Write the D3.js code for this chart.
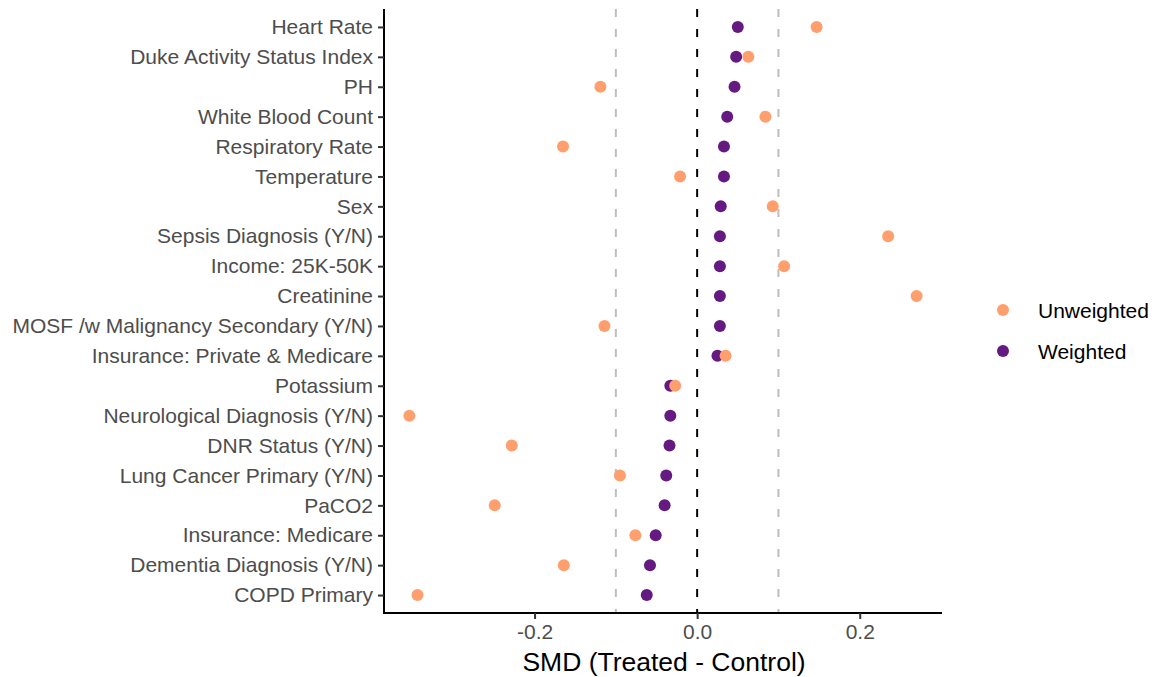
<!DOCTYPE html>
<html>
<head>
<meta charset="utf-8">
<script src="https://cdn.jsdelivr.net/npm/d3@7"></script>
<style>
  body { margin: 0; background: #fff; }
  svg { font-family: "Liberation Sans", Arial, Helvetica, sans-serif; }
</style>
</head>
<body>
<div id="chart"></div>
<script>
// covariates, top to bottom
var covariates = [
  "Heart Rate", "Duke Activity Status Index", "PH", "White Blood Count",
  "Respiratory Rate", "Temperature", "Sex", "Sepsis Diagnosis (Y/N)",
  "Income: 25K-50K", "Creatinine", "MOSF /w Malignancy Secondary (Y/N)",
  "Insurance: Private & Medicare", "Potassium", "Neurological Diagnosis (Y/N)",
  "DNR Status (Y/N)", "Lung Cancer Primary (Y/N)", "PaCO2",
  "Insurance: Medicare", "Dementia Diagnosis (Y/N)", "COPD Primary"
];
var unweighted = [0.147, 0.063, -0.119, 0.084, -0.165, -0.021, 0.093, 0.235,
  0.107, 0.270, -0.114, 0.035, -0.027, -0.354, -0.228, -0.095, -0.249,
  -0.076, -0.164, -0.344];
var weighted = [0.050, 0.048, 0.046, 0.037, 0.033, 0.033, 0.029, 0.028,
  0.028, 0.028, 0.028, 0.025, -0.033, -0.033, -0.034, -0.038, -0.040,
  -0.051, -0.058, -0.062];
var xTicks = [-0.2, 0.0, 0.2];
var refLines = [-0.1, 0.1];
var seriesNames = ["Unweighted", "Weighted"];
var seriesColors = ["#FE9F6D", "#641A80"];

var W = 1156, H = 677;
var pLeft = 384, pRight = 942, pTop = 9, pBottom = 613;

var svg = d3.select("#chart").append("svg").attr("width", W).attr("height", H);

// ggplot-like 5% expansion
var all = unweighted.concat(weighted);
var lo = d3.min(all), hi = d3.max(all), pad = (hi - lo) * 0.05;
var x = d3.scaleLinear().domain([lo - pad, hi + pad]).range([pLeft, pRight]);
var y = d3.scalePoint().domain(covariates).range([pTop, pBottom]).padding(0.6);

// reference lines
svg.selectAll(".ref").data(refLines).enter().append("line")
  .attr("x1", function(d) { return x(d); }).attr("x2", function(d) { return x(d); })
  .attr("y1", pTop).attr("y2", pBottom)
  .attr("stroke", "#BEBEBE").attr("stroke-width", 2).attr("stroke-dasharray", "8,12");
svg.append("line")
  .attr("x1", x(0)).attr("x2", x(0)).attr("y1", pTop).attr("y2", pBottom)
  .attr("stroke", "#000").attr("stroke-width", 2).attr("stroke-dasharray", "8,12");

// points
var rows = covariates.map(function(c, i) { return { c: c, u: unweighted[i], w: weighted[i] }; });
svg.selectAll(".pw").data(rows).enter().append("circle")
  .attr("cx", function(d) { return x(d.w); }).attr("cy", function(d) { return y(d.c); })
  .attr("r", 6).attr("fill", seriesColors[1]);
svg.selectAll(".pu").data(rows).enter().append("circle")
  .attr("cx", function(d) { return x(d.u); }).attr("cy", function(d) { return y(d.c); })
  .attr("r", 6).attr("fill", seriesColors[0]);

// axes
var xAxis = svg.append("g").attr("transform", "translate(0," + pBottom + ")")
  .call(d3.axisBottom(x).tickValues(xTicks).tickSize(6).tickPadding(5)
    .tickFormat(function(d) { return d3.format(".1f")(d).replace("\u2212", "-"); }));
var yAxis = svg.append("g").attr("transform", "translate(" + pLeft + ",0)")
  .call(d3.axisLeft(y).tickSize(6).tickPadding(5));

[xAxis, yAxis].forEach(function(a) {
  a.select(".domain").attr("stroke", "#000").attr("stroke-width", 2);
  a.selectAll(".tick line").attr("stroke", "#333").attr("stroke-width", 2);
  a.selectAll(".tick text").attr("fill", "#4D4D4D").style("font-size", "21px");
});
xAxis.select(".domain").attr("d", "M" + (pLeft - 1) + ",0H" + pRight);
yAxis.select(".domain").attr("d", "M0," + pTop + "V" + (pBottom + 1));

svg.append("text").attr("x", (pLeft + pRight) / 2 + 1).attr("y", 671)
  .attr("text-anchor", "middle").style("font-size", "26.5px").attr("fill", "#000")
  .text("SMD (Treated - Control)");

// legend
var leg = svg.append("g").selectAll("g").data(seriesNames).enter().append("g")
  .attr("transform", function(d, i) { return "translate(1003," + (310 + i * 41) + ")"; });
leg.append("circle").attr("r", 6).attr("fill", function(d, i) { return seriesColors[i]; });
leg.append("text").attr("x", 35).attr("y", 7.5).style("font-size", "21px")
  .attr("fill", "#000").text(function(d) { return d; });
</script>
</body>
</html>
